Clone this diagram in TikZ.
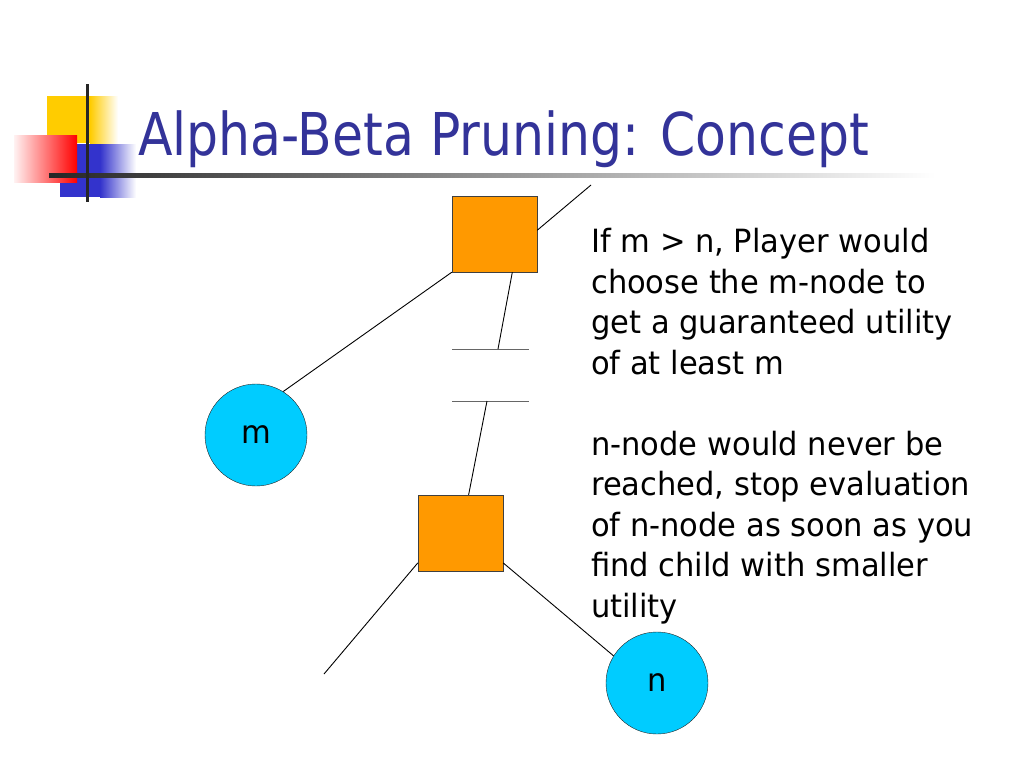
\documentclass[tikz,border=0pt]{standalone}
\usepackage{fontspec}
\setmainfont[FakeStretch=1.06]{DejaVu Sans Condensed}
\newfontfamily\titlefont[FakeStretch=0.95]{DejaVu Sans Condensed}
\definecolor{titleblue}{RGB}{51,51,153}
\definecolor{boxorange}{RGB}{255,153,0}
\definecolor{leafcyan}{RGB}{0,204,255}
\definecolor{logoyellow}{RGB}{255,204,0}
\definecolor{logoblue}{RGB}{51,51,204}

\begin{document}
\begin{tikzpicture}[x=1pt,y=-1pt,
  maxnode/.style={rectangle,draw=black!75,fill=boxorange,minimum width=85pt,minimum height=76pt,inner sep=0pt},
  leaf/.style={circle,draw=black!85,fill=leafcyan,minimum size=102pt,inner sep=0pt,font=\fontsize{32}{38}\selectfont},
  cut/.style={draw=black!60,line width=1pt},
  note/.style={anchor=base west,align=left,inner sep=0pt,font=\fontsize{32}{40.5}\selectfont},
  every edge/.style={draw,black,line width=0.9pt}]
  \useasboundingbox (0,0) rectangle (1024,768);
  % logo
  \fill[logoyellow] (47,96) rectangle (90,143);
  \shade[left color=logoyellow,right color=white] (90,96) rectangle (118,143);
  \fill[logoblue] (60,144) rectangle (100,197);
  \shade[left color=logoblue,right color=white] (100,144) rectangle (136,197);
  \shade[left color=red!5,right color=red] (14,135) rectangle (77,182);
  \shade[left color=black!85,middle color=black!25,right color=white] (49,173) rectangle (935,177);
  \draw[line width=3pt,black!85] (87,84) -- (87,202);
  \node[anchor=base west,inner sep=0pt,text=titleblue,font=\titlefont\fontsize{59}{70}\selectfont] (title) at (138,155) {Alpha-Beta Pruning: Concept};

  % tree
  \node[maxnode] (top) at (494.5,234) {};
  \node[leaf]    (m)   at (256,435)   {m};
  \node[maxnode] (low) at (460.5,533) {};
  \node[leaf]    (n)   at (657,683)   {n};
  \coordinate (parent)   at (591,185);
  \coordinate (cutA)     at (498,349);
  \coordinate (cutB)     at (487,401);
  \coordinate (leftleaf) at (324,674);
  \draw[cut] (452,349) -- (529,349);
  \draw[cut] (452,401) -- (529,401);

  \path (top.south west) edge (m.58)
        (top.5)          edge (parent)
        (top.-65)        edge (cutA)
        (cutB)           edge (low.78)
        (low.215)        edge (leftleaf)
        (low.-35)        edge (n.148);

  % text (anchored at the last line)
  \node[note] (rule) at (591,374) {If m > n, Player would\\choose the m-node to\\get a guaranteed utility\\of at least m};
  \node[note] (prune) at (591,617) {n-node would never be\\reached, stop evaluation\\of n-node as soon as you\\find child with smaller\\utility};
\end{tikzpicture}
\end{document}
